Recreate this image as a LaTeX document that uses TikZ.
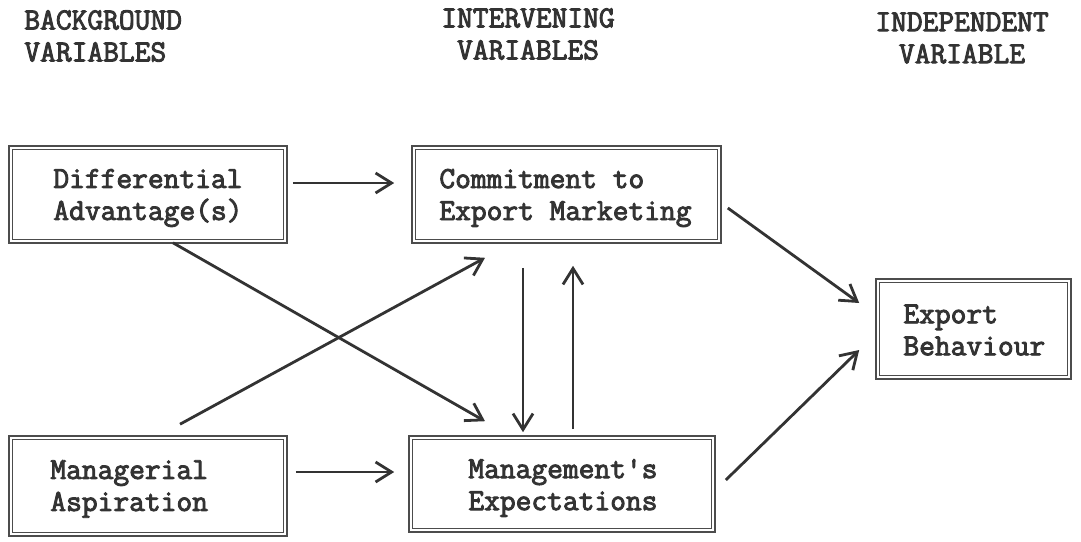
\documentclass[tikz,border=0pt]{standalone}
\usepackage{fontspec}
\newfontfamily\typew{Latin Modern Mono}[FakeBold=3]
\usetikzlibrary{arrows.meta}
\definecolor{ink}{gray}{0.2}
\definecolor{rule}{gray}{0.30}
\begin{document}
\begin{tikzpicture}[x=0.5pt,y=-0.5pt,
  txt/.style={inner sep=0pt,text=ink,align=left,
    font=\typew\fontsize{15.3}{16}\selectfont},
  hdr/.style={txt},
  vbox/.style={draw=rule,line width=0.8pt,double=white,double distance=1pt,
    rectangle,inner sep=0pt},
  arr/.style={draw=ink,line width=1.4pt,
    -{Straight Barb[length=8pt,width=10pt,line width=1.4pt]}}]
\useasboundingbox (0,0) rectangle (1081,541);

% column headings
\node[hdr,anchor=west] (hbg) at (24,36) {BACKGROUND\\VARIABLES};
\node[hdr,align=center] (hiv) at (528,34) {INTERVENING\\VARIABLES};
\node[hdr,align=center] (hid) at (962,38) {INDEPENDENT\\VARIABLE};

% variable boxes
\node[vbox,minimum width=137.4pt,minimum height=46.9pt] (diff) at (148,194.5) {};
\node[vbox,minimum width=152.9pt,minimum height=46.9pt] (commit) at (566.5,194.5) {};
\node[vbox,minimum width=95.9pt,minimum height=48.4pt] (export) at (973.5,329) {};
\node[vbox,minimum width=137.4pt,minimum height=48.4pt] (manag) at (148,486) {};
\node[vbox,minimum width=151.4pt,minimum height=46.4pt] (mgmt) at (562,484) {};

% box labels
\node[txt,anchor=west] (tdiff) at (53,198) {Differential\\Advantage(s)};
\node[txt,anchor=west] (tcommit) at (439,198) {Commitment to\\Export Marketing};
\node[txt,anchor=west] (texport) at (903,330) {Export\\Behaviour};
\node[txt,anchor=west] (tmanag) at (50,489) {Managerial\\Aspiration};
\node[txt,anchor=west] (tmgmt) at (468,488) {Management's\\Expectations};

% influences
\draw[arr] ([shift={(6.6,-11.5)}]diff.east) -- ([shift={(-18.6,-11.5)}]commit.west);
\draw[arr] ([shift={(9.6,-14)}]manag.east) -- ([shift={(-15.6,-12)}]mgmt.west);
\draw[arr] ([shift={(25,0.6)}]diff.south) -- ([shift={(-77,-15.6)}]mgmt.north);
\draw[arr] ([shift={(32,-12.6)}]manag.north) -- ([shift={(-81.5,15.6)}]commit.south);
\draw[arr] ([shift={(-43.5,25.6)}]commit.south) -- ([shift={(-39,-4.6)}]mgmt.north);
\draw[arr] ([shift={(11,-7.6)}]mgmt.north) -- ([shift={(6.5,23.6)}]commit.south);
\draw[arr] ([shift={(7.6,13.5)}]commit.east) -- ([shift={(-17.6,-26)}]export.west);
\draw[arr] ([shift={(11.6,-4)}]mgmt.east) -- ([shift={(-17.6,21)}]export.west);
\end{tikzpicture}
\end{document}
